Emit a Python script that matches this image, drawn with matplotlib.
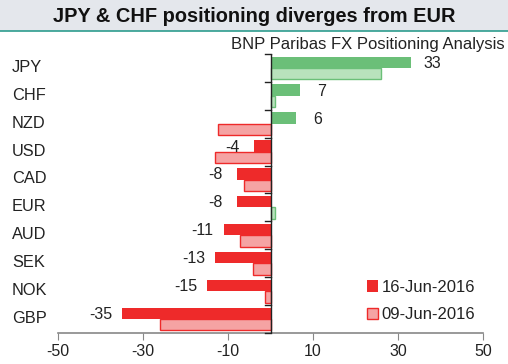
import matplotlib
matplotlib.use("Agg")
import matplotlib.pyplot as plt
import numpy as np
from matplotlib.patches import Rectangle
from matplotlib.transforms import blended_transform_factory

plt.rcParams['font.family'] = ['Liberation Sans', 'DejaVu Sans']

currencies = ["JPY", "CHF", "NZD", "USD", "CAD", "EUR", "AUD", "SEK", "NOK", "GBP"]
jun16 = [33, 7, 6, -4, -8, -8, -11, -13, -15, -35]
jun09 = [26, 1, -12.3, -13, -6.2, 1, -7.2, -4.1, -1.3, -26]
xticks = [-50, -30, -10, 10, 30, 50]
title = "JPY & CHF positioning diverges from EUR"
subtitle = "BNP Paribas FX Positioning Analysis"
legend_labels = ["16-Jun-2016", "09-Jun-2016"]

RED = "#EE2A2A"
RED_LIGHT = "#F5A3A3"
GREEN = "#6BBF78"
GREEN_LIGHT = "#B8E2BC"
TXT = "#222222"

W, H = 508, 364
fig = plt.figure(figsize=(W / 100, H / 100), dpi=100)

# title band
fig.patches.append(Rectangle((0, 1 - 31 / H), 1, 31 / H, transform=fig.transFigure,
                             facecolor="#E4E7EC", edgecolor="none", zorder=0))
fig.lines.append(plt.Line2D([0, 1], [1 - 31 / H, 1 - 31 / H], transform=fig.transFigure,
                            color="#2E9C8E", lw=1.2))
fig.text(254 / W, 1 - 17 / H, title, ha="center", va="center", fontsize=14.4,
         fontweight="bold", color="#111111")
fig.text(505 / W, 1 - 45 / H, subtitle, ha="right", va="center", fontsize=12,
         color=TXT)

ax = fig.add_axes([58 / W, 31 / H, (483 - 58) / W, (333 - 54) / H])
n = len(currencies)
y = np.arange(n)
h = 0.41

c16 = [GREEN if v > 0 else RED for v in jun16]
c09 = [GREEN_LIGHT if v > 0 else RED_LIGHT for v in jun09]
e09 = [GREEN if v > 0 else RED for v in jun09]

ax.barh(y - h / 2, jun16, height=h, color=c16, edgecolor="none", zorder=2)
ax.barh(y + h / 2, jun09, height=h, color=c09, edgecolor=e09, linewidth=1, zorder=2)

for yi, v in zip(y, jun16):
    xl = v + 5 if v > 0 else v - 5
    ax.text(xl, yi - h / 2 + 0.04, f"{v:g}", ha="center", va="center", fontsize=11.5,
            color=TXT, zorder=3)

ax.set_xlim(-50, 50)
ax.set_ylim(n - 0.5, -0.5)
ax.set_xticks(xticks)
ax.set_xticklabels([f"{t:g}" for t in xticks], fontsize=11.5, color=TXT)
ax.set_yticks([])
ax.tick_params(axis="x", length=5, color="#888888", direction="out", pad=3)

# category labels at left edge of figure
trans = blended_transform_factory(fig.transFigure, ax.transData)
for yi, c in zip(y, currencies):
    ax.text(12 / W, yi - 0.02, c, transform=trans, ha="left", va="center",
            fontsize=11.8, color=TXT, clip_on=False)

for s in ["top", "right", "left"]:
    ax.spines[s].set_visible(False)
ax.spines["bottom"].set_color("#888888")
ax.spines["bottom"].set_linewidth(1.2)

# zero axis with category boundary ticks
ax.axvline(0, color=TXT, lw=1.0, zorder=4)
for b in np.arange(-0.5, n, 1.0):
    ax.plot([-1.3, 0], [b, b], color=TXT, lw=1.0, zorder=4, clip_on=False)

h1 = Rectangle((0, 0), 1, 1, facecolor=RED, edgecolor="none")
h2 = Rectangle((0, 0), 1, 1, facecolor=RED_LIGHT, edgecolor=RED, linewidth=1)
leg = ax.legend([h1, h2], legend_labels, loc="lower right",
                bbox_to_anchor=(1.0 - 1 / 425, 4 / 279),
                frameon=False, fontsize=12, handlelength=0.7, handleheight=0.7,
                handletextpad=0.2, labelspacing=0.75, borderaxespad=0.0)
for t in leg.get_texts():
    t.set_color(TXT)

fig.savefig("out.png", dpi=100)
